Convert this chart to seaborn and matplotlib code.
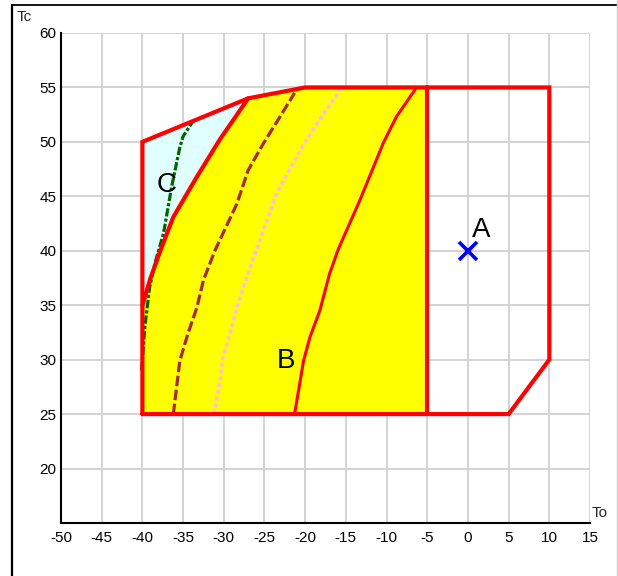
import matplotlib
matplotlib.use("Agg")
import matplotlib.pyplot as plt
from matplotlib.lines import Line2D
import seaborn as sns
import pandas as pd

# ---------------------------------------------------------
# Data
# ---------------------------------------------------------
# outer operating envelope
env_x = [-40, -40, -27, -20, 10, 10, 5, -40]
env_y = [25, 50, 54, 55, 55, 30, 25, 25]

# boundary between region C (cyan) and region B (yellow)
bc_x = [-40, -39.0, -37.8, -36.2, -33.3, -30.5, -27]
bc_y = [35, 37.5, 40, 43.1, 46.8, 50.2, 54]

# right edge of region B
b_right = -5

# curves inside the envelope
red_x = [-21.3, -20.2, -19.4, -18.2, -17.0, -15.9, -13.3, -10.4, -8.8, -6.5]
red_y = [25, 29.9, 32.1, 34.5, 37.9, 40.2, 44.6, 49.9, 52.3, 54.8]

pink_x = [-31.2, -30.5, -30.1, -29.0, -28.4, -27.2, -25.1, -23.5, -20.4, -17.8, -15.7]
pink_y = [25, 27.8, 30.2, 33.0, 34.8, 37.5, 41.9, 45.3, 49.5, 52.5, 54.8]

brown_x = [-36.2, -35.4, -34.4, -33.3, -32.5, -31.1, -28.4, -27.0, -25.1, -23.1, -21.3]
brown_y = [25, 29.9, 32.4, 34.8, 37.3, 40, 44.3, 47.4, 49.9, 52.3, 54.5]

green_x = [-40.1, -39.7, -39.1, -38.4, -37.4, -36.4, -35.4, -35.0, -33.7]
green_y = [29, 33, 36.7, 39, 41.6, 45.9, 49.5, 50.5, 52]

point_a = (0, 40)

region_labels = ["A", "B", "C"]
label_x = [1.6, -22.3, -37.0]
label_y = [41.9, 29.9, 46.0]

x_ticks = list(range(-50, 16, 5))
y_ticks = list(range(20, 61, 5))

# ---------------------------------------------------------
# Style
# ---------------------------------------------------------
sns.set_style("white")
plt.rcParams["font.family"] = ["Liberation Sans", "DejaVu Sans"]
plt.rcParams["axes.unicode_minus"] = False

fig = plt.figure(figsize=(6.18, 5.76), dpi=100)
ax = fig.add_axes([61 / 618, 53 / 576, 529 / 618, 490 / 576])

ax.set_xlim(-50, 15)
ax.set_ylim(15, 60)
ax.set_xticks(x_ticks)
ax.set_yticks(y_ticks)
ax.grid(True, color="#d3d3d3", lw=1.4, zorder=0)
ax.set_axisbelow(True)

# region C (cyan): between outer left edge and B boundary
c_poly_x = [-40, -40] + bc_x[::-1]
c_poly_y = [35, 50] + bc_y[::-1]
ax.fill(c_poly_x, c_poly_y, color="#e0ffff", lw=0, zorder=1)

# region B (yellow)
b_poly_x = [-40] + bc_x + [-20, b_right, b_right, -40]
b_poly_y = [25] + bc_y + [55, 55, 25, 25]
ax.fill(b_poly_x, b_poly_y, color="#ffff00", lw=0, zorder=1)

# curves
curves = pd.DataFrame({
    "x": brown_x + pink_x + green_x,
    "y": brown_y + pink_y + green_y,
    "curve": ["brown"] * len(brown_x) + ["pink"] * len(pink_x) + ["green"] * len(green_x),
})
sns.lineplot(data=curves[curves.curve == "pink"], x="x", y="y", sort=False,
             color="#ffc0cb", lw=2.6, ax=ax, zorder=3).lines[-1].set_dashes([1.1, 0.8])
sns.lineplot(data=curves[curves.curve == "brown"], x="x", y="y", sort=False,
             color="#a52a2a", lw=2.3, ax=ax, zorder=3).lines[-1].set_dashes([3.3, 1.1])
sns.lineplot(data=curves[curves.curve == "green"], x="x", y="y", sort=False,
             color="#006400", lw=2.3, ax=ax, zorder=3).lines[-1].set_dashes([2.6, 0.65, 1, 0.65])
sns.lineplot(x=red_x, y=red_y, sort=False, color="#ff0000", lw=2.2, ax=ax, zorder=4)

# red boundaries
ax.plot(env_x, env_y, color="#ff0000", lw=3, zorder=5, solid_joinstyle="miter")
ax.plot(bc_x, bc_y, color="#ff0000", lw=3, zorder=5)
ax.plot([b_right, b_right], [25, 55], color="#ff0000", lw=3, zorder=5)

# operating point A
ax.plot(*point_a, marker="x", color="#0000ff", ms=13, mew=2.6, zorder=6)

for lab, lx, ly in zip(region_labels, label_x, label_y):
    ax.text(lx, ly, lab, fontsize=20, ha="center", va="center", color="black", zorder=7)

# axes styling
for side in ["top", "right"]:
    ax.spines[side].set_visible(False)
for side in ["left", "bottom"]:
    ax.spines[side].set_color("black")
    ax.spines[side].set_linewidth(1.5)
ax.tick_params(axis="x", direction="inout", length=8, width=1.4, pad=2,
               labelsize=11, colors="black")
ax.tick_params(axis="y", direction="out", length=3, width=1.4, pad=0.5,
               labelsize=11, colors="black")
ax.set_yticklabels([str(t) for t in y_ticks])
ax.set_xticklabels([str(t) for t in x_ticks])
ax.set_xlabel("")
ax.set_ylabel("")

ax.text(-55.4, 61.5, "Tc", fontsize=11, ha="left", va="center", clip_on=False)
ax.text(15.15, 15.25, "To", fontsize=11, ha="left", va="bottom", clip_on=False)

# figure frame (top + left black, right thin grey)
fig.add_artist(Line2D([12 / 618, 12 / 618], [0, 1 - 5 / 576], color="black", lw=1.6))
fig.add_artist(Line2D([12 / 618, 1], [1 - 5 / 576, 1 - 5 / 576], color="black", lw=1.3))
fig.add_artist(Line2D([617 / 618, 617 / 618], [0, 1], color="#d0d0d0", lw=1))

fig.savefig("out.png", dpi=100)
plt.close(fig)
